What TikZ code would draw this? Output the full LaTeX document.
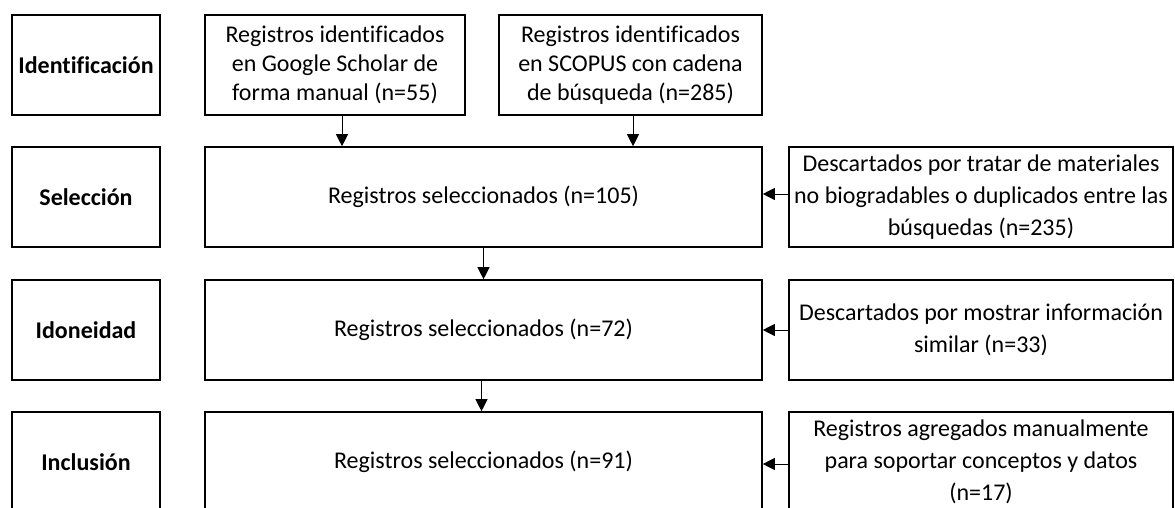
\documentclass[tikz,border=0pt]{standalone}
\usepackage{fontspec}
\setmainfont{Carlito}[Ligatures=NoCommon]
\usetikzlibrary{arrows.meta}
\begin{document}
\begin{tikzpicture}[x=1pt,y=-1pt,
  box/.style={draw,line width=1.6pt,inner sep=0pt,align=center,font=\fontsize{24}{29}\selectfont},
  phase/.style={box,minimum width=148pt,minimum height=100pt,font=\fontsize{24}{29}\selectfont\bfseries},
  mainbox/.style={box,minimum width=557pt,minimum height=100pt},
  srcbox/.style={box,minimum height=100pt},
  sidebox/.style={box,minimum width=384pt,minimum height=100pt,font=\fontsize{24}{32}\selectfont},
  arr/.style={line width=0.9pt,-{Triangle[length=12pt,width=12pt]}}]
\useasboundingbox (0,0) rectangle (1175,508);
\node[phase] (p1) at (86,65) {Identificación};
\node[phase] (p2) at (86,197) {Selección};
\node[phase] (p3) at (86,330) {Idoneidad};
\node[phase] (p4) at (86,462) {Inclusión};
\node[srcbox,minimum width=260pt] (g) at (335,65) {Registros identificados\\en Google Scholar de\\forma manual (n=55)};
\node[srcbox,minimum width=263pt] (s) at (630.5,65) {Registros identificados\\en SCOPUS con cadena\\de búsqueda (n=285)};
\node[mainbox] (m1) at (483.5,197) {Registros seleccionados (n=105)};
\node[mainbox] (m2) at (483.5,330) {Registros seleccionados (n=72)};
\node[mainbox] (m3) at (483.5,462) {Registros seleccionados (n=91)};
\node[sidebox] (r1) at (981,197) {Descartados por tratar de materiales\\no biogradables o duplicados entre las\\búsquedas (n=235)};
\node[sidebox] (r2) at (981,330) {Descartados por mostrar información\\similar (n=33)};
\node[sidebox] (r3) at (981,462) {Registros agregados manualmente\\para soportar conceptos y datos\\(n=17)};
\draw[arr] ([xshift=7pt]g.south) -- ([xshift=7pt]g.south |- m1.north);
\draw[arr] ([xshift=2.5pt]s.south) -- ([xshift=2.5pt]s.south |- m1.north);
\draw[arr] (m1.south) -- (m2.north);
\draw[arr] ([xshift=-2pt]m2.south) -- ([xshift=-2pt]m3.north);
\draw[arr] ([yshift=3pt]r1.west) -- ([yshift=3pt]r1.west -| m1.east);
\draw[arr] (r2.west) -- (r2.west -| m2.east);
\draw[arr] ([yshift=-2pt]r3.west) -- ([yshift=-2pt]r3.west -| m3.east);
\end{tikzpicture}
\end{document}
